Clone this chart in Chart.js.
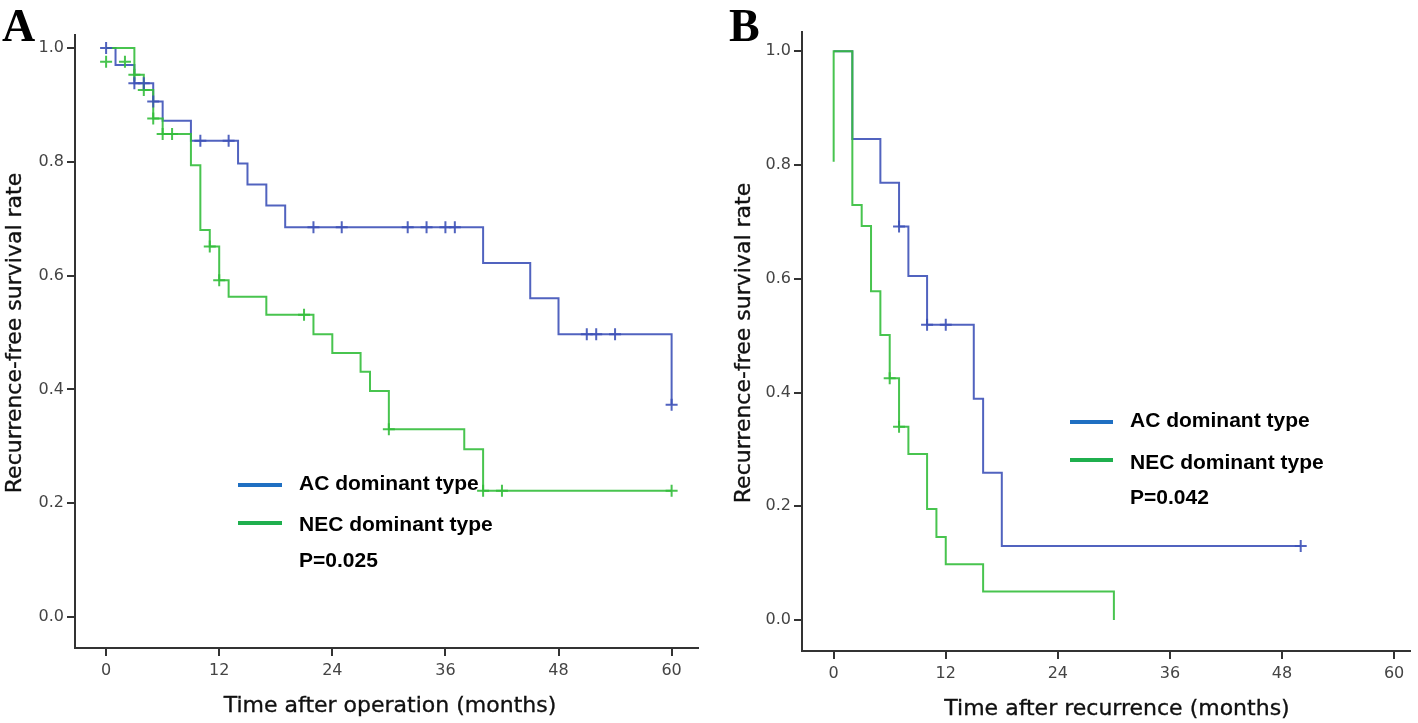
<!DOCTYPE html>
<html>
<head>
<meta charset="utf-8">
<script src="https://cdn.jsdelivr.net/npm/chart.js@4.4.1/dist/chart.umd.min.js"></script>
<style>
  html, body { margin:0; padding:0; background:#fff; }
  #wrap { position:relative; width:1418px; height:723px; background:#fff; overflow:hidden; }
  canvas { position:absolute; }
  .lbl { position:absolute; white-space:nowrap; }
  .letter { font-family:"Liberation Serif", serif; font-weight:bold; font-size:46px; color:#000; line-height:1; }
  .ytitle { font-family:"DejaVu Sans", sans-serif; font-size:22px; color:#111; transform:translate(-50%,-50%) rotate(-90deg); -webkit-text-stroke:0.35px #111; }
  .xtitle { font-family:"DejaVu Sans", sans-serif; font-size:22px; color:#111; transform:translate(-50%,-50%); -webkit-text-stroke:0.35px #111; }
  .leg { font-family:"Liberation Sans", Arial, sans-serif; font-weight:bold; font-size:21px; color:#000; transform:translateY(-50%); }
  .legline { position:absolute; height:4px; }
</style>
</head>
<body>
<div id="wrap">
  <canvas id="cA" width="710" height="723" style="left:0;top:0;"></canvas>
  <canvas id="cB" width="698" height="723" style="left:720px;top:0;"></canvas>

  <div class="lbl letter" style="left:2px;top:3px;">A</div>
  <div class="lbl letter" style="left:729px;top:3px;">B</div>

  <div class="lbl ytitle" style="left:13px;top:333px;">Recurrence-free survival rate</div>
  <div class="lbl ytitle" style="left:742px;top:343px;">Recurrence-free survival rate</div>
  <div class="lbl xtitle" style="left:390px;top:704px;">Time after operation (months)</div>
  <div class="lbl xtitle" style="left:1117px;top:707px;">Time after recurrence (months)</div>

  <div class="legline" style="left:238px;top:483px;width:44px;background:#1f6fc2;"></div>
  <div class="lbl leg" style="left:299px;top:483px;">AC dominant type</div>
  <div class="legline" style="left:238px;top:521px;width:44px;background:#1faf4e;"></div>
  <div class="lbl leg" style="left:299px;top:524px;">NEC dominant type</div>
  <div class="lbl leg" style="left:299px;top:560px;">P=0.025</div>

  <div class="legline" style="left:1070px;top:420px;width:43px;background:#1f6fc2;"></div>
  <div class="lbl leg" style="left:1130px;top:420px;">AC dominant type</div>
  <div class="legline" style="left:1070px;top:458px;width:43px;background:#1faf4e;"></div>
  <div class="lbl leg" style="left:1130px;top:462px;">NEC dominant type</div>
  <div class="lbl leg" style="left:1130px;top:497px;">P=0.042</div>
</div>
<script>
// ---------- Data ----------
const xTickValues = [0, 12, 24, 36, 48, 60];
const yTickValues = [0, 0.2, 0.4, 0.6, 0.8, 1.0];

// Panel A: time after operation
const aTimesAC = [0, 1, 3, 5, 6, 9, 14, 15, 17, 19, 40, 45, 48, 60];
const aSurvAC  = [1.0, 0.970, 0.938, 0.906, 0.872, 0.837, 0.797, 0.760, 0.723, 0.685, 0.622, 0.560, 0.497, 0.373];
const aCensTimesAC = [0, 3, 4, 5, 10, 13, 22, 25, 32, 34, 36, 37, 51, 52, 54, 60];
const aCensSurvAC  = [1.0, 0.938, 0.938, 0.906, 0.837, 0.837, 0.685, 0.685, 0.685, 0.685, 0.685, 0.685, 0.497, 0.497, 0.497, 0.373];

const aTimesNEC = [0, 3, 4, 5, 6, 9, 10, 11, 12, 13, 17, 22, 24, 27, 28, 30, 38, 40, 60];
const aSurvNEC  = [1.0, 0.953, 0.926, 0.876, 0.849, 0.794, 0.680, 0.651, 0.592, 0.563, 0.531, 0.497, 0.464, 0.431, 0.397, 0.330, 0.295, 0.222, 0.222];
const aCensTimesNEC = [0, 2, 3, 4, 5, 6, 7, 11, 12, 21, 30, 40, 42, 60];
const aCensSurvNEC  = [0.976, 0.976, 0.953, 0.926, 0.876, 0.849, 0.849, 0.651, 0.592, 0.531, 0.330, 0.222, 0.222, 0.222];

// Panel B: time after recurrence
const bTimesAC = [0, 2, 5, 7, 8, 10, 15, 16, 18, 50];
const bSurvAC  = [1.0, 0.846, 0.769, 0.692, 0.605, 0.519, 0.389, 0.259, 0.130, 0.130];
const bCensTimesAC = [7, 10, 12, 50];
const bCensSurvAC  = [0.692, 0.519, 0.519, 0.130];

const bTimesNEC = [0, 0, 2, 3, 4, 5, 6, 7, 8, 10, 11, 12, 16, 30];
const bSurvNEC  = [0.806, 1.0, 0.730, 0.693, 0.578, 0.501, 0.425, 0.340, 0.292, 0.195, 0.146, 0.098, 0.050, 0.0];
const bCensTimesNEC = [6, 7];
const bCensSurvNEC  = [0.425, 0.340];

// ---------- Styling ----------
const AC_COLOR = 'rgba(62,82,184,0.9)';
const NEC_COLOR = 'rgba(52,190,60,0.9)';
const AXIS_COLOR = '#333';
const TICK_FONT = { family: 'DejaVu Sans', size: 16 };

function pts(t, s) { return t.map((v, i) => ({ x: v, y: s[i] })); }

function makeChart(id, cfg) {
  const ctx = document.getElementById(id);
  return new Chart(ctx, {
    type: 'line',
    data: {
      datasets: [
        { label: 'AC censored', data: pts(cfg.censAC[0], cfg.censAC[1]), showLine: false,
          pointStyle: 'cross', pointRadius: 6, pointBorderWidth: 2, borderColor: AC_COLOR, backgroundColor: AC_COLOR, order: 1 },
        { label: 'NEC censored', data: pts(cfg.censNEC[0], cfg.censNEC[1]), showLine: false,
          pointStyle: 'cross', pointRadius: 6, pointBorderWidth: 2, borderColor: NEC_COLOR, backgroundColor: NEC_COLOR, order: 2 },
        { label: 'NEC dominant type', data: pts(cfg.nec[0], cfg.nec[1]), stepped: 'before',
          borderColor: NEC_COLOR, borderWidth: 2, pointRadius: 0, fill: false, order: 3 },
        { label: 'AC dominant type', data: pts(cfg.ac[0], cfg.ac[1]), stepped: 'before',
          borderColor: AC_COLOR, borderWidth: 2, pointRadius: 0, fill: false, order: 4 }
      ]
    },
    options: {
      responsive: false,
      animation: false,
      events: [],
      layout: { padding: { left: 0, top: cfg.top, right: cfg.padRight, bottom: 0 } },
      plugins: { legend: { display: false }, tooltip: { enabled: false } },
      scales: {
        x: {
          type: 'linear', min: cfg.xMin, max: cfg.xMax,
          afterBuildTicks: s => { s.ticks = xTickValues.map(v => ({ value: v })); },
          afterFit: s => { s.height = cfg.xHeight; },
          ticks: { font: TICK_FONT, color: '#444', padding: 5, autoSkip: false, maxRotation: 0,
                   callback: v => String(v) },
          grid: { display: true, drawOnChartArea: false, drawTicks: true, tickLength: 8, color: AXIS_COLOR, lineWidth: 2 },
          border: { display: true, color: AXIS_COLOR, width: 2 }
        },
        y: {
          type: 'linear', min: cfg.yMin, max: cfg.yMax,
          afterBuildTicks: s => { s.ticks = yTickValues.map(v => ({ value: v })); },
          afterFit: s => { s.width = cfg.yWidth; },
          ticks: { font: TICK_FONT, color: '#444', padding: 3, autoSkip: false,
                   callback: v => Number(v).toFixed(1) },
          grid: { display: true, drawOnChartArea: false, drawTicks: true, tickLength: 8, color: AXIS_COLOR, lineWidth: 2 },
          border: { display: true, color: AXIS_COLOR, width: 2 }
        }
      }
    }
  });
}

makeChart('cA', {
  ac: [aTimesAC, aSurvAC], nec: [aTimesNEC, aSurvNEC],
  censAC: [aCensTimesAC, aCensSurvAC], censNEC: [aCensTimesNEC, aCensSurvNEC],
  xMin: -3.3, xMax: 62.8, yMin: -0.0545, yMax: 1.0228,
  top: 35, padRight: 12, yWidth: 75, xHeight: 75
});

makeChart('cB', {
  ac: [bTimesAC, bSurvAC], nec: [bTimesNEC, bSurvNEC],
  censAC: [bCensTimesAC, bCensSurvAC], censNEC: [bCensTimesNEC, bCensSurvNEC],
  xMin: -3.39, xMax: 61.7, yMin: -0.0545, yMax: 1.034,
  top: 32, padRight: 1, yWidth: 82, xHeight: 72
});
</script>
</body>
</html>
